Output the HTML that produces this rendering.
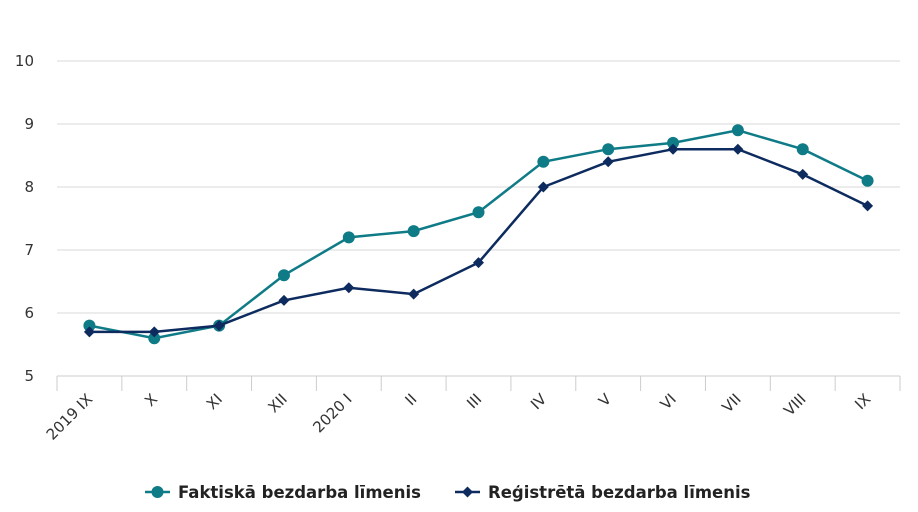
<!DOCTYPE html>
<html><head><meta charset="utf-8"><style>
html,body{margin:0;padding:0;background:#fff;width:918px;height:512px;overflow:hidden}
svg{display:block;font-family:"DejaVu Sans","Liberation Sans",sans-serif}
</style></head><body>
<svg id="chart" width="918" height="512"></svg>
<script>
const categories=["2019 IX","X","XI","XII","2020 I","II","III","IV","V","VI","VII","VIII","IX"];
const actualRate=[5.8,5.6,5.8,6.6,7.2,7.3,7.6,8.4,8.6,8.7,8.9,8.6,8.1];
const registeredRate=[5.7,5.7,5.8,6.2,6.4,6.3,6.8,8.0,8.4,8.6,8.6,8.2,7.7];
const yTicks=[5,6,7,8,9,10];
const seriesNames=["Faktiskā bezdarba līmenis","Reģistrētā bezdarba līmenis"];

const NS="http://www.w3.org/2000/svg";
const svg=document.getElementById('chart');
const L=57,R=900,T=61,B=376,yMin=5,yMax=10;
const band=(R-L)/categories.length;
const x=i=>L+band*(i+0.5);
const y=v=>B-(v-yMin)/(yMax-yMin)*(B-T);
function mk(tag,attrs,parent){const e=document.createElementNS(NS,tag);for(const k in attrs)e.setAttribute(k,attrs[k]);(parent||svg).appendChild(e);return e;}

yTicks.forEach(t=>{
  const g=mk('line',{x1:L,x2:R,y1:y(t),y2:y(t),stroke:'#d8d8d8','stroke-width':1});
  
  
  const lb=mk('text',{x:34,y:y(t)+5,'text-anchor':'end','font-size':15,fill:'#333'});
  lb.textContent=t;
  
  
});
const ax=mk('line',{x1:L,x2:R,y1:B,y2:B,stroke:'#ccc','stroke-width':1});


for(let i=0;i<=categories.length;i++){
  const tk=mk('line',{x1:L+band*i,x2:L+band*i,y1:B,y2:B+15,stroke:'#ccc','stroke-width':1});
  
  
}
categories.forEach((c,i)=>{
  const tx=x(i)+4,ty=B+24;
  const lb=mk('text',{x:tx,y:ty,'text-anchor':'end','font-size':15,fill:'#333',transform:`rotate(-45 ${tx} ${ty})`});
  lb.textContent=c;
  
  
});

function series(vals,color,shape,name){
  const g=mk('g',{});
  
  
  const p=mk('polyline',{points:vals.map((v,i)=>x(i)+','+y(v)).join(' '),fill:'none',stroke:color,'stroke-width':2.5},g);
  
  
  vals.forEach((v,i)=>{
    let m;
    if(shape==='circle') m=mk('circle',{cx:x(i),cy:y(v),r:6,fill:color},g);
    else {const cx=x(i),cy=y(v);m=mk('polygon',{points:`${cx},${cy-5.5} ${cx+5.5},${cy} ${cx},${cy+5.5} ${cx-5.5},${cy}`,fill:color},g);}
    
    
  });
}
series(actualRate,'#0f7b87','circle','actual-rate-series');
series(registeredRate,'#0d2b5e','diamond','registered-rate-series');

function legend(lx,color,shape,text,name){
  const g=mk('g',{});
  
  
  mk('line',{x1:lx,x2:lx+25,y1:492,y2:492,stroke:color,'stroke-width':2.5},g);
  if(shape==='circle') mk('circle',{cx:lx+12.5,cy:492,r:6,fill:color},g);
  else mk('polygon',{points:`${lx+12.5},486.5 ${lx+18},492 ${lx+12.5},497.5 ${lx+7},492`,fill:color},g);
  const t=mk('text',{x:lx+33,y:498,'font-size':16.5,'font-weight':'bold',fill:'#222'},g);
  t.textContent=text;
}
legend(145,'#0f7b87','circle',seriesNames[0],'legend-entry-actual');
legend(455,'#0d2b5e','diamond',seriesNames[1],'legend-entry-registered');
</script>
</body></html>
